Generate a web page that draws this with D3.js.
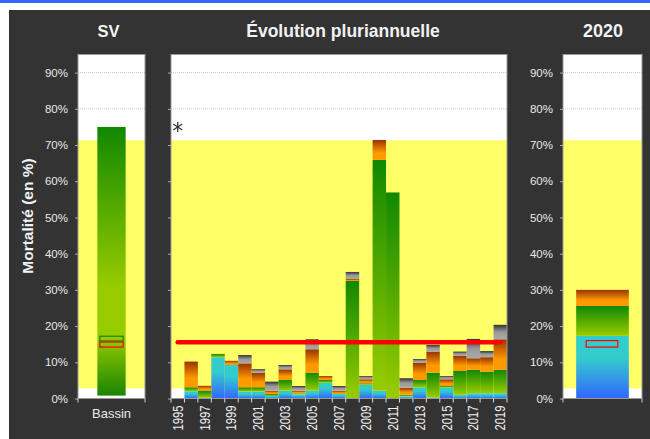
<!DOCTYPE html>
<html>
<head>
<meta charset="utf-8">
<script src="https://cdn.jsdelivr.net/npm/d3@7"></script>
<style>
  body { margin: 0; background: #fff; }
  svg { display: block; font-family: "Liberation Sans", Arial, sans-serif; }
</style>
</head>
<body>
<svg id="chart" width="650" height="439"></svg>
<script>
// values, in %
var years = [1995, 1996, 1997, 1998, 1999, 2000, 2001, 2002, 2003, 2004, 2005, 2006, 2007,
             2008, 2009, 2010, 2011, 2012, 2013, 2014, 2015, 2016, 2017, 2018, 2019];
var yearLabels = [1995, 1997, 1999, 2001, 2003, 2005, 2007, 2009, 2011, 2013, 2015, 2017, 2019];
var blueVals   = [0, 2.0, 0.2, 11.4, 9.25, 1.9, 1.9, 0.7, 2.15, 1.15, 2.15, 4.35, 1.25, 0, 3.8, 2.15, 0, 0.6, 3.1, 0.3, 3.1, 1.0, 1.45, 1.45, 1.45];
var greenVals  = [0, 1.1, 2.0, 0.9, 0, 1.2, 1.2, 0.55, 2.95, 0.25, 4.95, 0.75, 0, 32.45, 0.4, 63.75, 56.9, 0.45, 2.0, 6.8, 0.35, 6.6, 6.45, 5.95, 6.45];
var orangeVals = [0, 7.1, 1.3, 0, 1.15, 6.6, 4.0, 0.9, 2.95, 0.75, 6.5, 1.1, 0.9, 0.55, 1.1, 5.5, 0, 1.9, 4.8, 5.85, 1.85, 4.15, 3.2, 4.0, 8.45];
var grayVals   = [0, 0, 0, 0, 0, 2.3, 1.0, 2.5, 1.2, 1.3, 2.75, 0, 1.3, 1.95, 0.9, 0, 0, 2.65, 1.0, 1.85, 0.9, 1.2, 5.35, 1.7, 4.0];

var current = {blue: 17.3, green: 8.25, orange: 4.45, gray: 0};   // 2020
var bassinRange = [0.8, 75];
var bassinGreenBox = [15.9, 17.2];
var bassinRedBox = [14.2, 15.6];
var currentRedBox = [14.2, 16.0];
var refLine = 15.5;
var normalBand = [2.8, 71.3];
var starYear = 1995, starValue = 75;
var yTicks = [0, 10, 20, 30, 40, 50, 60, 70, 80, 90];

var keys = ["blue", "green", "orange", "gray"];
var gradStops = {
  blue:   [[0, "#33cccc"], [0.35, "#33cccc"], [1, "#3366ff"]],
  green:  [[0, "#118800"], [1, "#99cc00"]],
  orange: [[0, "#993300"], [0.65, "#ff9900"], [1, "#ff9900"]],
  gray:   [[0, "#333333"], [0.5, "#999999"], [1, "#aaaaaa"]]
};

var svg = d3.select("#chart");
var plotTop = 54.5, plotBottom = 398.5;
var y = d3.scaleLinear().domain([0, 95]).range([plotBottom, plotTop]);

// background
svg.append("rect").attr("width", 650).attr("height", 3).attr("fill", "#3366ff");
svg.append("rect").attr("x", 9).attr("y", 10).attr("width", 641).attr("height", 429).attr("fill", "#333333");

var defs = svg.append("defs");
keys.forEach(function(k){
  var g = defs.append("linearGradient").attr("id", "g-" + k)
    .attr("x1", 0).attr("y1", 0).attr("x2", 0).attr("y2", 1);
  gradStops[k].forEach(function(s){
    g.append("stop").attr("offset", s[0]).attr("stop-color", s[1]);
  });
});
var sv = defs.append("linearGradient").attr("id", "g-sv")
  .attr("x1", 0).attr("y1", 0).attr("x2", 0).attr("y2", 1);
[[0, "#118800"], [0.6, "#99cc00"], [0.78, "#99cc00"], [1, "#1a8400"]].forEach(function(s){
  sv.append("stop").attr("offset", s[0]).attr("stop-color", s[1]);
});

function panel(x0, x1){
  var g = svg.append("g");
  g.append("rect").attr("x", x0).attr("y", plotTop).attr("width", x1 - x0).attr("height", plotBottom - plotTop).attr("fill", "#fff");
  g.selectAll(".grid").data(yTicks.slice(1)).enter().append("line")
    .attr("x1", x0).attr("x2", x1)
    .attr("y1", function(d){ return y(d); }).attr("y2", function(d){ return y(d); })
    .attr("stroke", "#c8c8c8").attr("stroke-dasharray", "1,1");
  g.append("rect").attr("x", x0).attr("y", y(normalBand[1]))
    .attr("width", x1 - x0).attr("height", y(normalBand[0]) - y(normalBand[1]))
    .attr("fill", "#ffff66");
  return g;
}

function frame(x0, x1){
  svg.append("rect").attr("x", x0).attr("y", plotTop).attr("width", x1 - x0).attr("height", plotBottom - plotTop)
    .attr("fill", "none").attr("stroke", "#999").attr("stroke-width", 1);
}

function yAxis(x0, labels){
  var ax = d3.axisLeft(y).tickValues(yTicks).tickSize(3).tickPadding(7)
    .tickFormat(function(d){ return labels ? d + "%" : ""; });
  var g = svg.append("g").attr("transform", "translate(" + x0 + ",0)").call(ax);
  g.select(".domain").remove();
  g.selectAll(".tick line").attr("stroke", "#aaa");
  g.selectAll(".tick text").attr("fill", "#e8e8e8").attr("font-size", 11.5)
    .attr("font-family", "Liberation Sans, Arial, sans-serif");
}

function title(x, txt, size){
  svg.append("text").attr("x", x).attr("y", 37).attr("text-anchor", "middle")
    .attr("fill", "#f2f2f2").attr("font-weight", "bold").attr("font-size", size).text(txt);
}

// ---- left panel: SV / Bassin
var xl0 = 78, xl1 = 145;
var xL = d3.scaleBand().domain(["Bassin"]).range([xl0, xl1]).padding(0.406);
panel(xl0, xl1);
svg.append("rect").attr("x", xL("Bassin")).attr("width", xL.bandwidth())
  .attr("y", y(bassinRange[1])).attr("height", y(bassinRange[0]) - y(bassinRange[1]))
  .attr("fill", "url(#g-sv)");
[[bassinGreenBox, "#118800"], [bassinRedBox, "#ff0000"]].forEach(function(b){
  svg.append("rect").attr("x", xL("Bassin") + 2.5).attr("width", xL.bandwidth() - 5)
    .attr("y", y(b[0][1])).attr("height", y(b[0][0]) - y(b[0][1]))
    .attr("fill", "none").attr("stroke", b[1]).attr("stroke-width", 1.2);
});
frame(xl0, xl1);
yAxis(xl0, true);
svg.append("g").attr("transform", "translate(0," + plotBottom + ")")
  .call(d3.axisBottom(xL).tickSize(0).tickPadding(10))
  .call(function(g){
    g.select(".domain").remove();
    g.selectAll("text").attr("fill", "#e8e8e8").attr("font-size", 13)
      .attr("font-family", "Liberation Sans, Arial, sans-serif");
  });
[xl0, xl1].forEach(function(x){
  svg.append("line").attr("x1", x).attr("x2", x).attr("y1", plotBottom).attr("y2", plotBottom + 4).attr("stroke", "#ccc");
});
title(108.5, "SV", 16.5);
svg.append("text").attr("transform", "translate(33,216) rotate(-90)")
  .attr("text-anchor", "middle").attr("fill", "#f2f2f2").attr("font-weight", "bold")
  .attr("font-size", 15.5).text("Mortalité (en %)");

// ---- middle panel: multi-year stacks
var xm0 = 171, xm1 = 507;
var xM = d3.scaleBand().domain(years).range([xm0, xm1]).padding(0);
panel(xm0, xm1);
var rows = years.map(function(yr, i){
  return {year: yr, blue: blueVals[i], green: greenVals[i], orange: orangeVals[i], gray: grayVals[i]};
});
var series = d3.stack().keys(keys)(rows);
svg.append("g").selectAll("g").data(series).enter().append("g")
  .attr("fill", function(s){ return "url(#g-" + s.key + ")"; })
  .selectAll("rect").data(function(s){ return s.filter(function(d){ return d[1] - d[0] > 0; }); })
  .enter().append("rect")
    .attr("x", function(d){ return xM(d.data.year); })
    .attr("width", xM.bandwidth())
    .attr("y", function(d){ return y(d[1]); })
    .attr("height", function(d){ return y(d[0]) - y(d[1]); });

svg.append("line")
  .attr("x1", xM(years[0]) + xM.bandwidth() / 2).attr("x2", xM(years[years.length - 1]) + xM.bandwidth() / 2)
  .attr("y1", y(refLine)).attr("y2", y(refLine))
  .attr("stroke", "#ff0000").attr("stroke-width", 4.5).attr("stroke-linecap", "round");

var sx = xM(starYear) + xM.bandwidth() / 2, sy = y(starValue);
[[0, -5, 0, 5], [-4.5, -3, 4.5, 3], [-4.5, 3, 4.5, -3]].forEach(function(l){
  svg.append("line").attr("x1", sx + l[0]).attr("y1", sy + l[1]).attr("x2", sx + l[2]).attr("y2", sy + l[3])
    .attr("stroke", "#333").attr("stroke-width", 1.3);
});
frame(xm0, xm1);
yAxis(xm0, false);
svg.append("g").selectAll("line").data(years.concat([null])).enter().append("line")
  .attr("x1", function(d, i){ return xm0 + i * xM.step(); })
  .attr("x2", function(d, i){ return xm0 + i * xM.step(); })
  .attr("y1", plotBottom).attr("y2", plotBottom + 4).attr("stroke", "#ddd");
svg.append("g").selectAll("text").data(yearLabels).enter().append("text")
  .attr("transform", function(d){ return "translate(" + (xM(d) + xM.bandwidth() / 2 + 5) + "," + (plotBottom + 7) + ") rotate(-90)"; })
  .attr("text-anchor", "end").attr("fill", "#f0f0f0").attr("font-size", 15)
  .attr("textLength", 25).attr("lengthAdjust", "spacingAndGlyphs")
  .text(function(d){ return d; });
title(343, "Évolution pluriannuelle", 17.5);

// ---- right panel: 2020
var xr0 = 563, xr1 = 642;
var xR = d3.scaleBand().domain(["2020"]).range([xr0, xr1]).padding(0.2);
panel(xr0, xr1);
var cur = d3.stack().keys(keys)([current]);
svg.append("g").selectAll("rect").data(cur.filter(function(s){ return s[0][1] - s[0][0] > 0; }))
  .enter().append("rect")
    .attr("x", xR("2020")).attr("width", xR.bandwidth())
    .attr("y", function(s){ return y(s[0][1]); })
    .attr("height", function(s){ return y(s[0][0]) - y(s[0][1]); })
    .attr("fill", function(s){ return "url(#g-" + s.key + ")"; });
svg.append("rect").attr("x", xR("2020") + 10).attr("width", xR.bandwidth() - 21)
  .attr("y", y(currentRedBox[1])).attr("height", y(currentRedBox[0]) - y(currentRedBox[1]))
  .attr("fill", "none").attr("stroke", "#ff0000").attr("stroke-width", 1.2);
frame(xr0, xr1);
yAxis(xr0, true);
[xr0, xr1].forEach(function(x){
  svg.append("line").attr("x1", x).attr("x2", x).attr("y1", plotBottom).attr("y2", plotBottom + 4).attr("stroke", "#ccc");
});
title(603, "2020", 18);
</script>
</body>
</html>
